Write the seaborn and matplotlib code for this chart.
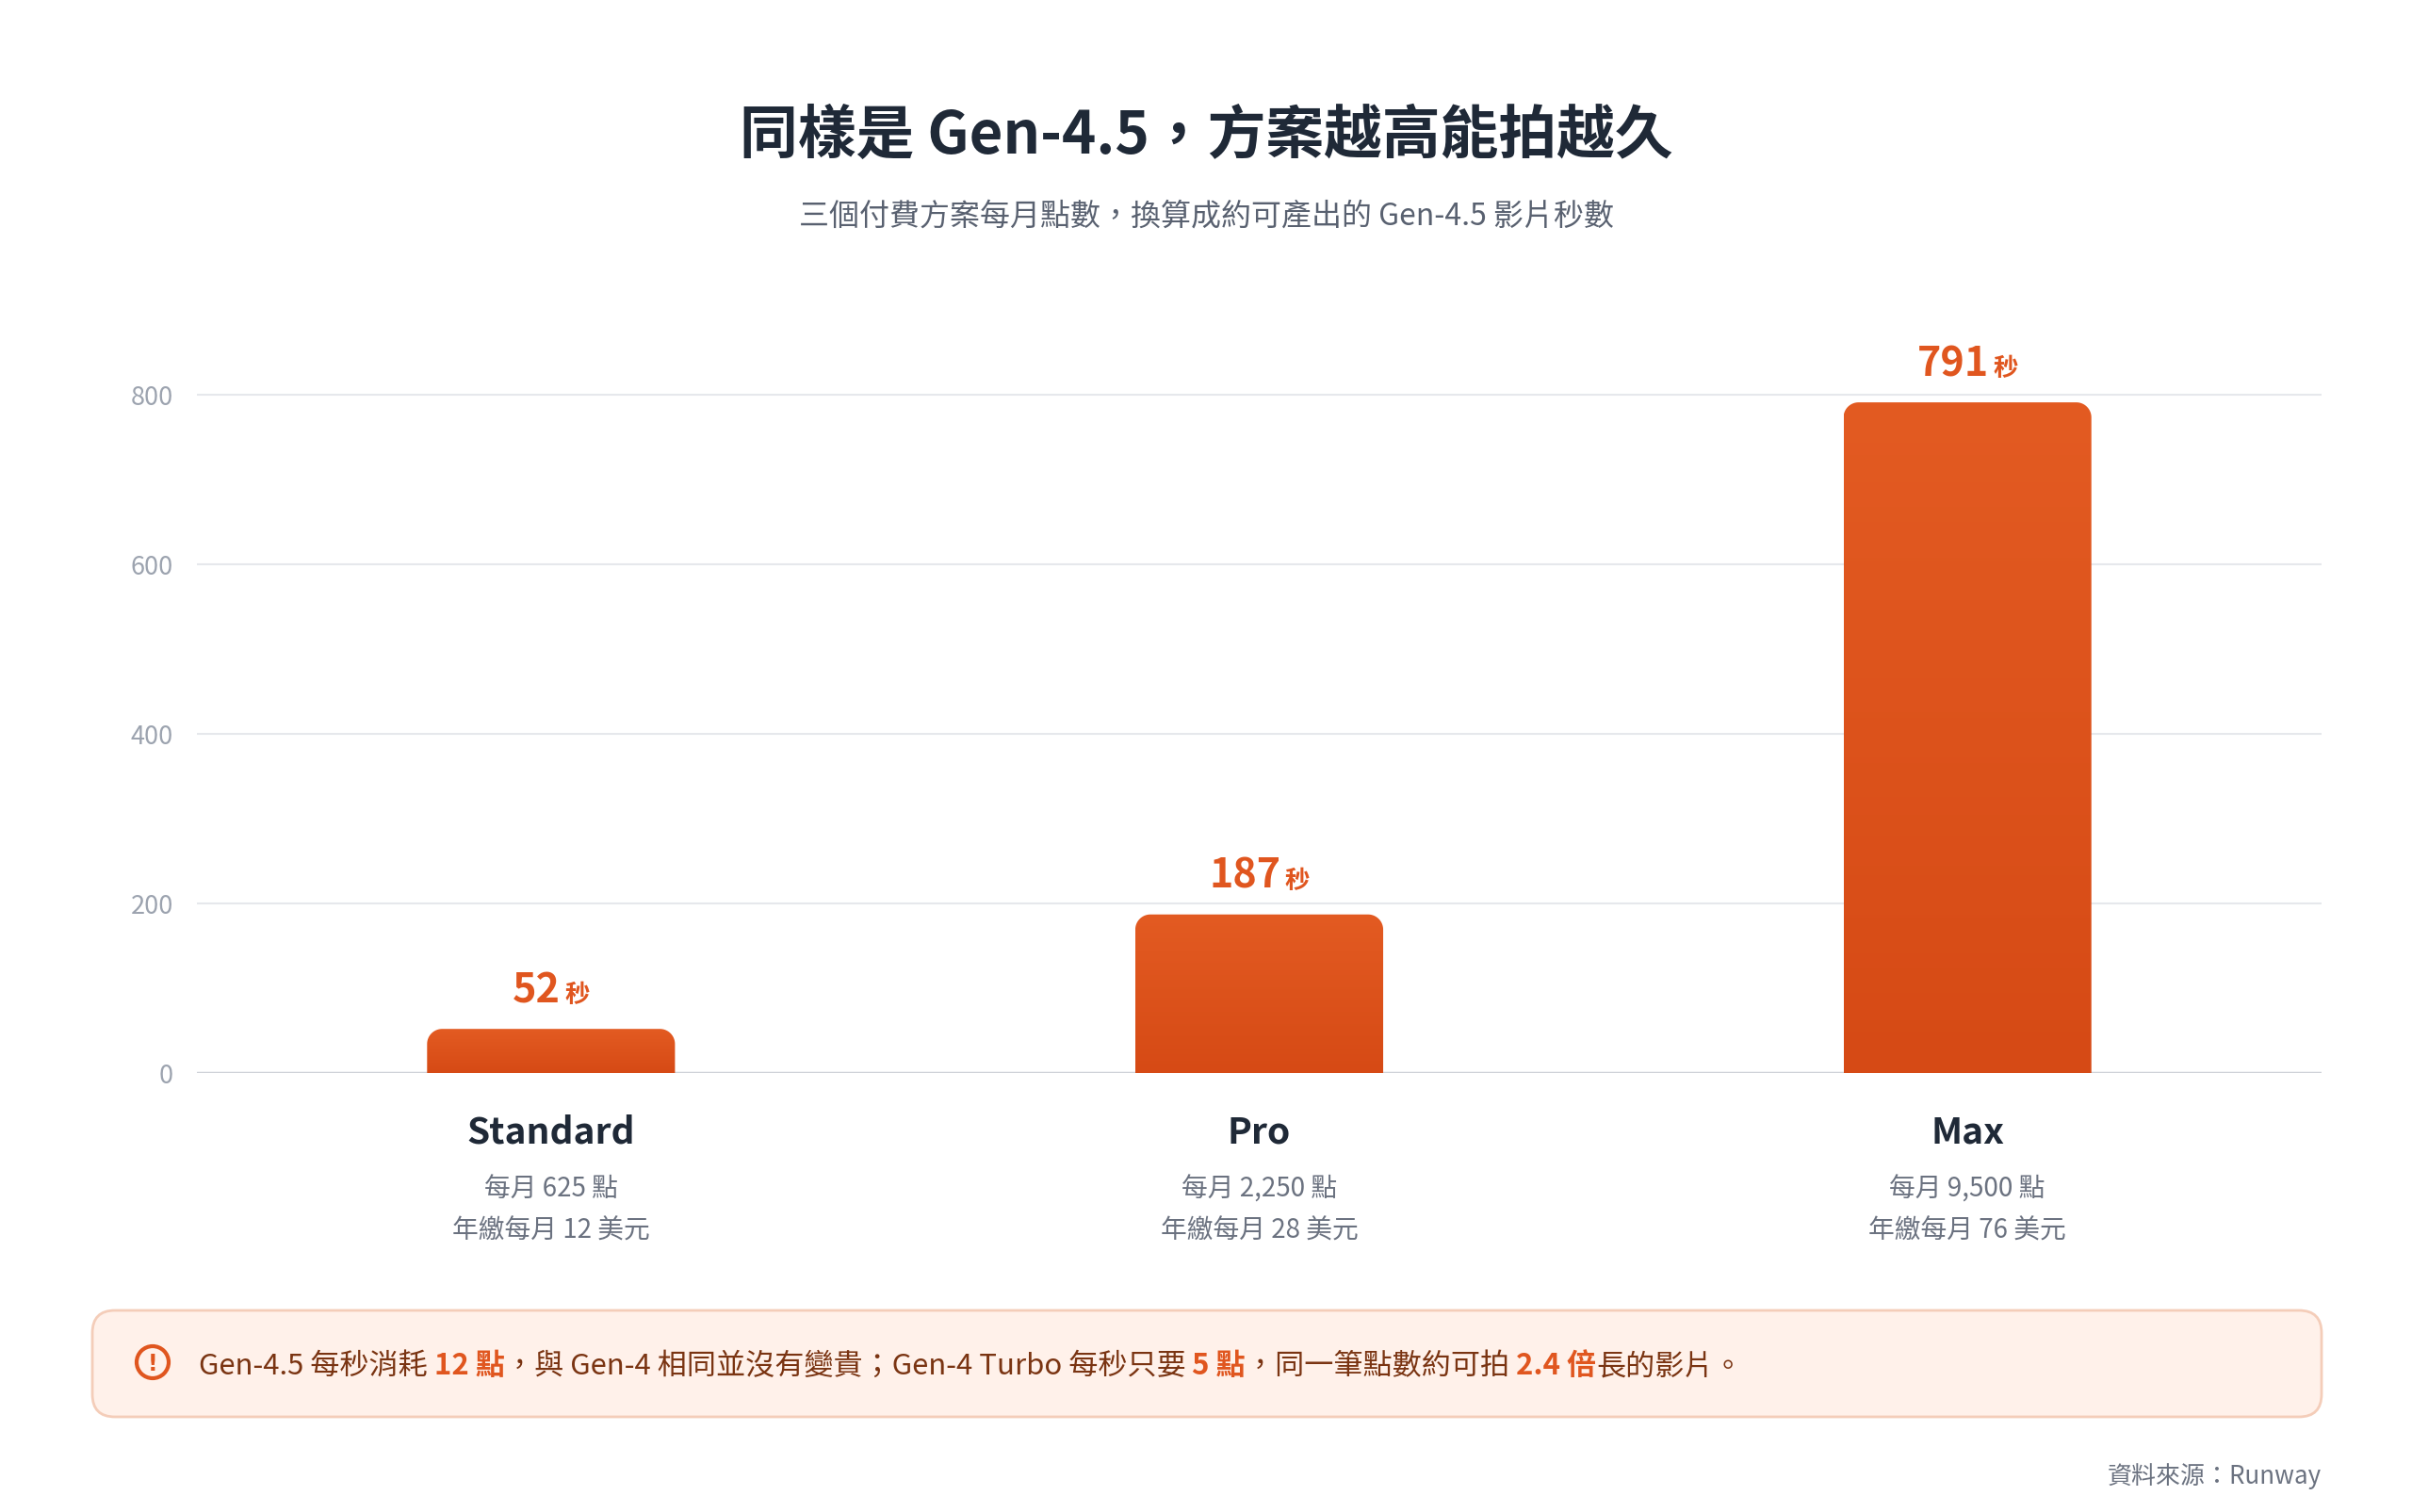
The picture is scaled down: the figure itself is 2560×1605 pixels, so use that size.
import numpy as np
import pandas as pd
import seaborn as sns
import matplotlib
matplotlib.use("Agg")
import matplotlib.pyplot as plt
from matplotlib.patches import FancyBboxPatch, PathPatch, Circle
from matplotlib.path import Path
from matplotlib.colors import LinearSegmentedColormap

# data
plans = ["Standard", "Pro", "Max"]
seconds = [52, 187, 791]
credits = ["每月 625 點", "每月 2,250 點", "每月 9,500 點"]
prices = ["年繳每月 12 美元", "年繳每月 28 美元", "年繳每月 76 美元"]
yticks = [0, 200, 400, 600, 800]

title = "同樣是 Gen-4.5，方案越高能拍越久"
subtitle = "三個付費方案每月點數，換算成約可產出的 Gen-4.5 影片秒數"
note = [
    ("Gen-4.5 每秒消耗 ", False),
    ("12 點", True),
    ("，與 Gen-4 相同並沒有變貴；Gen-4 Turbo 每秒只要 ", False),
    ("5 點", True),
    ("，同一筆點數約可拍 ", False),
    ("2.4 倍", True),
    ("長的影片。", False),
]
source = "資料來源：Runway"

ORANGE = "#E0561F"
DARK = "#1f2937"
GRAY = "#6b7280"

sns.set_theme(style="white")
plt.rcParams['font.family'] = ['Noto Sans CJK TC', 'DejaVu Sans']

W, H = 2560, 1606
fig = plt.figure(figsize=(W / 100, H / 100), dpi=100)
fig.patch.set_facecolor("white")

# axes: x 209..2464 px, value 0 at y=1140, 0.9 px per unit
ax = fig.add_axes([209 / W, (H - 1140) / H, 2255 / W, 774 / H])
df = pd.DataFrame({"plan": plans, "sec": seconds})
sns.barplot(data=df, x="plan", y="sec", ax=ax, width=0.35, color=ORANGE,
            saturation=1, zorder=3)
ax.set_xlim(-0.5, 2.5)
ax.set_ylim(0, 860)
ax.set_yticks(yticks)
ax.set_xticks([])
ax.set_xlabel("")
ax.set_ylabel("")
ax.grid(axis="y", color="#e6e8ec", lw=1.5, zorder=0)
ax.set_axisbelow(True)
for s in ax.spines.values():
    s.set_visible(False)
ax.axhline(0, color="#cfd2d8", lw=2.5, zorder=2)
ax.tick_params(axis="y", length=0, pad=18, labelsize=19.5, labelcolor="#9ca3af")

# rounded top corners + vertical gradient
cmap = LinearSegmentedColormap.from_list("bar", ["#D64A15", "#E35B22"])
grad = np.linspace(0, 1, 256).reshape(-1, 1)
p0 = ax.transData.transform((0, 0))
p1 = ax.transData.transform((1, 1))
sx, sy = p1[0] - p0[0], p1[1] - p0[1]
rad = 16
for p in list(ax.patches):
    x0, w, h = p.get_x(), p.get_width(), p.get_height()
    p.set_visible(False)
    rx, ry = rad / sx, rad / sy
    t1 = np.linspace(np.pi, np.pi / 2, 20)
    t2 = np.linspace(np.pi / 2, 0, 20)
    left = np.column_stack([x0 + rx + rx * np.cos(t1), h - ry + ry * np.sin(t1)])
    right = np.column_stack([x0 + w - rx + rx * np.cos(t2), h - ry + ry * np.sin(t2)])
    verts = np.vstack([[x0, 0], left, right, [x0 + w, 0], [x0, 0]])
    clip = PathPatch(Path(verts, closed=True), facecolor="none", edgecolor="none",
                     transform=ax.transData)
    ax.add_patch(clip)
    im = ax.imshow(grad, extent=[x0, x0 + w, 0, h], origin="lower", aspect="auto",
                   cmap=cmap, zorder=3)
    im.set_clip_path(clip)
ax.set_xlim(-0.5, 2.5)
ax.set_ylim(0, 860)

# overlay in pixel coordinates for all the text
ov = fig.add_axes([0, 0, 1, 1], zorder=10)
ov.set_xlim(0, W)
ov.set_ylim(H, 0)
ov.axis("off")
ov.patch.set_alpha(0)

ov.text(W / 2, 144, title, ha="center", va="center", fontsize=44.5,
        fontweight="bold", color=DARK)
ov.text(W / 2, 230, subtitle, ha="center", va="center", fontsize=23, color="#596170")

renderer = fig.canvas.get_renderer()

for i, v in enumerate(seconds):
    px, py = ax.transData.transform((i, v))
    top = H - py
    base = top - 29
    a = ov.text(0, base, str(v), fontsize=31, fontweight=900, color=ORANGE,
                ha="left", va="baseline")
    b = ov.text(0, base, "秒", fontsize=19, fontweight="bold", color=ORANGE,
                ha="left", va="baseline")
    w1 = a.get_window_extent(renderer).width
    w2 = b.get_window_extent(renderer).width
    gap = 4
    start = px - (w1 + gap + w2) / 2
    a.set_x(start)
    b.set_x(start + w1 + gap)

    ov.text(px, 1202, plans[i], ha="center", va="center", fontsize=28,
            fontweight="bold", color=DARK)
    ov.text(px, 1263, credits[i], ha="center", va="center", fontsize=20, color=GRAY)
    ov.text(px, 1307, prices[i], ha="center", va="center", fontsize=20, color=GRAY)

# note box
box = FancyBboxPatch((98, 1392), 2366, 113, boxstyle="round,pad=0,rounding_size=24",
                     facecolor="#FFF1EA", edgecolor="#F4CDB9", lw=2)
ov.add_patch(box)
ov.add_patch(Circle((162, 1447), 17, facecolor="none", edgecolor=ORANGE, lw=3))
ov.text(162, 1448, "!", ha="center", va="center", fontsize=17, fontweight="bold",
        color=ORANGE, family="DejaVu Sans")

x = 211
for seg, bold in note:
    t = ov.text(x, 1459, seg, ha="left", va="baseline", fontsize=22.4,
                fontweight="bold" if bold else "normal",
                color=ORANGE if bold else "#7a3412")
    x += t.get_window_extent(renderer).width

ov.text(2464, 1567, source, ha="right", va="center", fontsize=18.7, color=GRAY)

fig.savefig("out.png", dpi=100)
